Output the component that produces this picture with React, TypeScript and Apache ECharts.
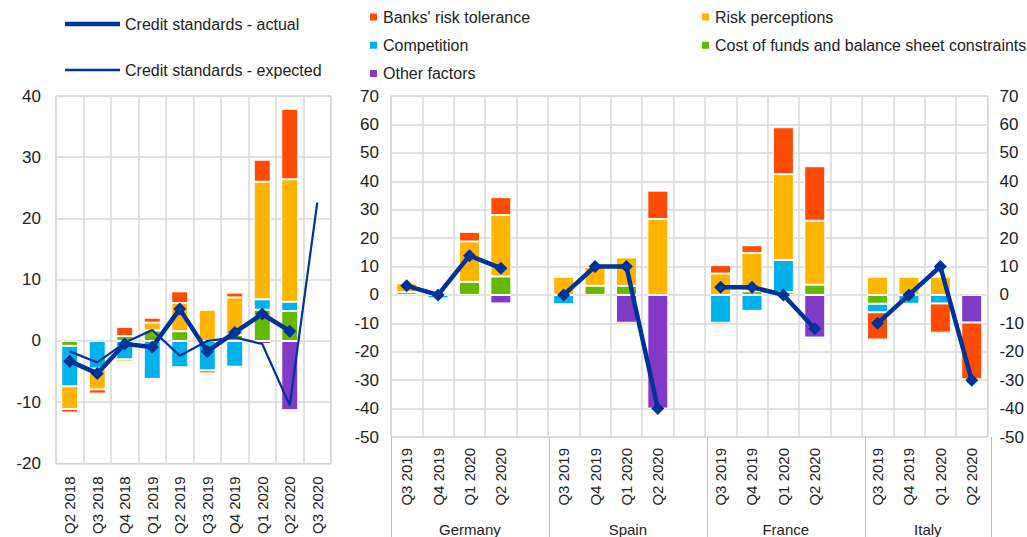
import React, { useEffect, useRef } from "react";
import * as echarts from "echarts";

// ---------- data ----------
const leftCategories = ["Q2 2018", "Q3 2018", "Q4 2018", "Q1 2019", "Q2 2019", "Q3 2019", "Q4 2019", "Q1 2020", "Q2 2020", "Q3 2020"];
const leftRiskTolerance = [-0.6, -0.7, 1.5, 0.8, 1.9, -0.5, 0.8, 3.6, 11.5, 0];
const leftRiskPerceptions = [-3.7, -3.4, -0.4, 1.3, 4.6, 5.1, 6.1, 19.2, 20.0, 0];
const leftCompetition = [-6.6, -4.5, -3.0, -6.2, -4.3, -4.8, -4.2, 1.7, 1.5, 0];
const leftCostOfFunds = [-0.8, 0, 0.8, 1.7, 1.6, 0, 1.0, 5.1, 4.9, 0];
const leftOtherFactors = [0, 0, 0, 0, 0, 0, 0, -0.5, -11.3, 0];
const leftActual = [-3.3, -5.3, -0.5, -1.0, 5.2, -1.7, 1.4, 4.4, 1.6, null];
const leftExpected = [-1.7, -3.5, -0.3, 1.8, -2.4, 0.0, 0.6, -0.5, -10.5, 22.6];

const countries = ["Germany", "Spain", "France", "Italy"];
const quarters = ["Q3 2019", "Q4 2019", "Q1 2020", "Q2 2020"];
// country-major: Germany(4), Spain(4), France(4), Italy(4)
const rightRiskTolerance = [0, 0, 3.4, 6.3, 0, 0, 0, 10, 3.0, 2.7, 16.5, 19.2, -9.6, 0, -10.3, -20];
const rightRiskPerceptions = [3.1, 0.8, 14.2, 21.6, 6.4, 6.7, 10, 26.7, 7.5, 13.5, 30.2, 22.5, 6.4, 6.4, 6.4, 0];
const rightCompetition = [0, -1.2, 0, 0, -3.3, 0, 0, 0, -9.8, -5.6, 11.3, -0.6, -3.0, -3.1, -3.0, 0];
const rightCostOfFunds = [1.0, 0, 4.6, 6.5, 0, 3.2, 3.2, 0, 0, 1.3, 1.0, 3.6, -3.1, 0, 0, 0];
const rightOtherFactors = [0, 0, 0, -3.0, 0, 0, -9.8, -40, 0, 0, 0, -15, 0, 0, 0, -9.7];
const rightActual = [3.2, 0, 13.8, 9.4, 0, 10, 10, -40, 2.7, 2.7, 0, -11.9, -10, 0, 10, -30];

const leftTicks = { min: -20, max: 40, interval: 10 };
const rightTicks = { min: -50, max: 70, interval: 10 };

// ---------- styling ----------
const C = {
  red: "#FF4B00",
  yellow: "#FFB400",
  cyan: "#00B1EA",
  green: "#65B800",
  purple: "#8139C6",
  blue: "#003299",
  grid: "#d9d9d9",
  border: "#bfbfbf",
  text: "#222222",
};
const FONT = "Liberation Sans, Arial, sans-serif";

const LG = { left: 56, top: 96, width: 275, height: 368 };
const RG = { left: 391, top: 96, width: 600, height: 341 };

const N_RIGHT = countries.length * 5 - 1;

function spread(vals: (number | null)[]): (number | null)[] {
  // insert spacer categories between countries
  const out: (number | null)[] = [];
  countries.forEach((_, ci) => {
    for (let q = 0; q < quarters.length; q++) out.push(vals[ci * quarters.length + q]);
    if (ci < countries.length - 1) out.push(null);
  });
  return out;
}
const bar0 = (v: (number | null)[]) => v.map((x) => (x === 0 || x === null ? null : x));

const rightCategories: string[] = [];
countries.forEach((c, ci) => {
  quarters.forEach((q) => rightCategories.push(c + "|" + q));
  if (ci < countries.length - 1) rightCategories.push("gap" + ci);
});

const factors = [
  { name: "Other factors", color: C.purple, l: leftOtherFactors, r: rightOtherFactors },
  { name: "Cost of funds and balance sheet constraints", color: C.green, l: leftCostOfFunds, r: rightCostOfFunds },
  { name: "Competition", color: C.cyan, l: leftCompetition, r: rightCompetition },
  { name: "Risk perceptions", color: C.yellow, l: leftRiskPerceptions, r: rightRiskPerceptions },
  { name: "Banks' risk tolerance", color: C.red, l: leftRiskTolerance, r: rightRiskTolerance },
];

export default function App() {
  const ref = useRef<HTMLDivElement>(null);
  useEffect(() => {
    if (!ref.current) return;
    const chart = echarts.init(ref.current, undefined, { renderer: "svg" });

    const series: any[] = [];
    factors.forEach((f) => {
      series.push({
        name: f.name,
        type: "bar",
        xAxisIndex: 0,
        yAxisIndex: 0,
        stack: "L",
        barWidth: 17,
        data: bar0(f.l),
        itemStyle: { color: f.color, borderColor: "#fff", borderWidth: 1 },
      });
      series.push({
        name: f.name,
        type: "bar",
        xAxisIndex: 1,
        yAxisIndex: 1,
        stack: "R",
        barWidth: 21,
        data: bar0(spread(f.r)),
        itemStyle: { color: f.color, borderColor: "#fff", borderWidth: 1 },
      });
    });
    series.push({
      name: "Credit standards - actual",
      type: "line",
      xAxisIndex: 0,
      yAxisIndex: 0,
      z: 10,
      data: leftActual,
      symbol: "diamond",
      symbolSize: 13,
      lineStyle: { color: C.blue, width: 4.5 },
      itemStyle: { color: C.blue },
    });
    series.push({
      name: "Credit standards - expected",
      type: "line",
      xAxisIndex: 0,
      yAxisIndex: 0,
      z: 9,
      data: leftExpected,
      symbol: "none",
      lineStyle: { color: C.blue, width: 2.2 },
      itemStyle: { color: C.blue },
    });
    series.push({
      name: "Credit standards - actual",
      type: "line",
      xAxisIndex: 1,
      yAxisIndex: 1,
      z: 10,
      data: spread(rightActual),
      connectNulls: false,
      symbol: "diamond",
      symbolSize: 13,
      lineStyle: { color: C.blue, width: 4.5 },
      itemStyle: { color: C.blue },
    });

    const catLabel = { fontSize: 15, color: C.text, fontFamily: FONT, rotate: 90, interval: 0 };
    const valLabel = { fontSize: 17, color: C.text, fontFamily: FONT };

    const cellW = RG.width / N_RIGHT;
    const graphics: any[] = [];
    const dividerIdx = [0, 5, 10, 15, N_RIGHT];
    dividerIdx.forEach((i) => {
      const x = Math.round(RG.left + i * cellW) + 0.5;
      graphics.push({
        type: "line",
        shape: { x1: x, y1: RG.top + RG.height, x2: x, y2: 537 },
        style: { stroke: C.border, lineWidth: 1 },
        silent: true,
      });
    });
    countries.forEach((c, ci) => {
      const start = ci * 5;
      const span = ci < countries.length - 1 ? 5 : 4;
      const cx = RG.left + (start + span / 2) * cellW;
      graphics.push({
        type: "text",
        x: cx,
        y: 529,
        style: {
          text: c,
          fontSize: 15,
          fontFamily: FONT,
          fill: C.text,
          textAlign: "center",
          textVerticalAlign: "middle",
        },
        silent: true,
      });
    });

    const legendBase = {
      orient: "vertical",
      padding: 0,
      textStyle: { fontSize: 16, color: C.text, fontFamily: FONT, lineHeight: 16 },
      selectedMode: false,
    };
    const lineLegendText = { fontSize: 16, color: C.text, fontFamily: FONT, lineHeight: 18 };

    chart.setOption({
      animation: false,
      backgroundColor: "#ffffff",
      textStyle: { fontFamily: FONT },
      legend: [
        {
          ...legendBase,
          left: 65,
          top: 15,
          itemWidth: 55,
          itemHeight: 4.5,
          icon: "rect",
          textStyle: lineLegendText,
          data: ["Credit standards - actual"],
        },
        {
          ...legendBase,
          left: 65,
          top: 61,
          itemWidth: 55,
          itemHeight: 2.5,
          icon: "rect",
          textStyle: lineLegendText,
          data: ["Credit standards - expected"],
        },
        {
          ...legendBase,
          left: 368,
          top: 9,
          itemWidth: 9,
          itemHeight: 9,
          itemGap: 12.3,
          icon: "rect",
          data: ["Banks' risk tolerance", "Competition", "Other factors"],
        },
        {
          ...legendBase,
          left: 700,
          top: 9,
          itemWidth: 9,
          itemHeight: 9,
          itemGap: 12.3,
          icon: "rect",
          data: ["Risk perceptions", "Cost of funds and balance sheet constraints"],
        },
      ],
      grid: [
        { ...LG, show: true, borderColor: C.border, borderWidth: 1, containLabel: false },
        { ...RG, show: true, borderColor: C.border, borderWidth: 1, containLabel: false },
      ],
      xAxis: [
        {
          type: "category",
          gridIndex: 0,
          data: leftCategories,
          axisLine: { show: false },
          axisTick: { show: false },
          axisLabel: { ...catLabel, margin: 13 },
          splitLine: { show: true, interval: 0, lineStyle: { color: C.grid, width: 1.5 } },
        },
        {
          type: "category",
          gridIndex: 1,
          data: rightCategories,
          axisLine: { show: false },
          axisTick: { show: false },
          axisLabel: {
            ...catLabel,
            margin: 11,
            formatter: (v: string) => (v.indexOf("|") >= 0 ? v.split("|")[1] : ""),
          },
          splitLine: { show: true, interval: 0, lineStyle: { color: C.grid, width: 1.5 } },
        },
      ],
      yAxis: [
        {
          type: "value",
          gridIndex: 0,
          ...leftTicks,
          axisLine: { show: false },
          axisTick: { show: false },
          axisLabel: { ...valLabel, margin: 15 },
          splitLine: { show: true, lineStyle: { color: C.grid, width: 1.5 } },
        },
        {
          type: "value",
          gridIndex: 1,
          position: "left",
          ...rightTicks,
          axisLine: { show: false },
          axisTick: { show: false },
          axisLabel: { ...valLabel, margin: 12 },
          splitLine: { show: true, lineStyle: { color: C.grid, width: 1.5 } },
        },
        {
          type: "value",
          gridIndex: 1,
          position: "right",
          ...rightTicks,
          axisLine: { show: false },
          axisTick: { show: false },
          axisLabel: { ...valLabel, margin: 12 },
          splitLine: { show: false },
        },
      ],
      series,
      graphic: graphics,
    });

    return () => chart.dispose();
  }, []);

  return (
    <div
      ref={ref}
      style={{ position: "absolute", left: 0, top: 0, width: 1027, height: 537, background: "#fff" }}
    />
  );
}
